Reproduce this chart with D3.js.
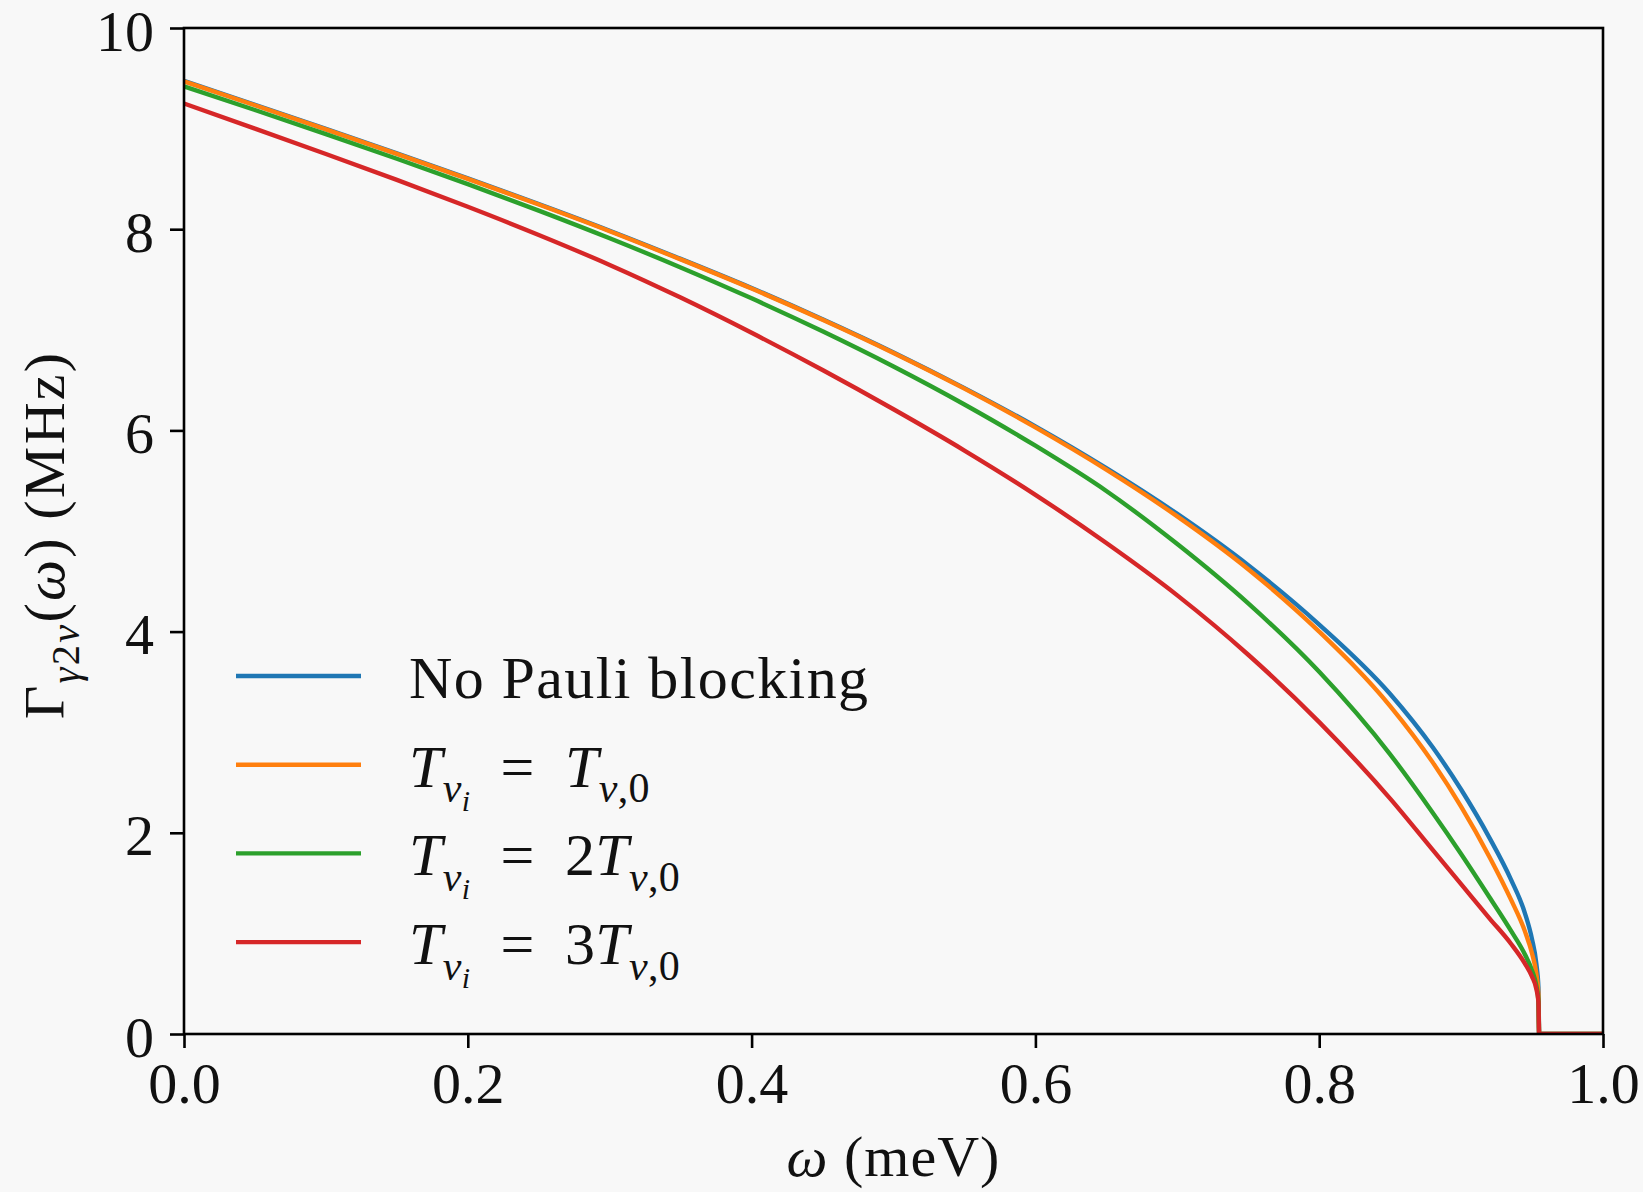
<!DOCTYPE html>
<html>
<head>
<meta charset="utf-8">
<script src="https://cdn.jsdelivr.net/npm/d3@7"></script>
<style>
  html, body { margin: 0; padding: 0; background: #f8f8f8; }
  svg { display: block; }
  text { font-family: "Liberation Serif", "Times New Roman", serif; fill: #111; }
</style>
</head>
<body>
<svg id="chart" width="1643" height="1192"></svg>
<script>
// ---- data ----
const omega = [0, 0.05, 0.1, 0.15, 0.2, 0.25, 0.3, 0.35, 0.4, 0.45, 0.5, 0.55, 0.6, 0.65, 0.7, 0.75, 0.8, 0.85, 0.88, 0.9, 0.92, 0.935, 0.945, 0.95, 0.953, 0.9545, 0.955, 1.0];
const gammaNoPauli = [9.475, 9.237, 8.997, 8.754, 8.505, 8.25, 7.985, 7.705, 7.415, 7.105, 6.775, 6.42, 6.04, 5.625, 5.17, 4.66, 4.07, 3.38, 2.85, 2.43, 1.95, 1.54, 1.20, 0.94, 0.70, 0.46, 0, 0];
const gammaT1 = [9.47, 9.232, 8.992, 8.749, 8.50, 8.245, 7.98, 7.70, 7.41, 7.10, 6.77, 6.415, 6.03, 5.61, 5.145, 4.62, 4.00, 3.26, 2.70, 2.26, 1.76, 1.34, 1.02, 0.80, 0.60, 0.40, 0, 0];
const gammaT2 = [9.42, 9.185, 8.945, 8.70, 8.4475, 8.185, 7.91, 7.62, 7.3125, 6.985, 6.635, 6.2575, 5.8475, 5.3975, 4.87, 4.28, 3.60, 2.78, 2.20, 1.79, 1.36, 1.03, 0.79, 0.63, 0.48, 0.33, 0, 0];
const gammaT3 = [9.25, 9.00, 8.7475, 8.49, 8.2225, 7.9425, 7.645, 7.32, 6.97, 6.60, 6.21, 5.80, 5.36, 4.88, 4.36, 3.77, 3.10, 2.34, 1.83, 1.49, 1.15, 0.90, 0.70, 0.57, 0.45, 0.32, 0, 0];
const xTicks = [0, 0.2, 0.4, 0.6, 0.8, 1.0];
const xTickLabels = ["0.0", "0.2", "0.4", "0.6", "0.8", "1.0"];
const yTicks = [0, 2, 4, 6, 8, 10];
const yTickLabels = ["0", "2", "4", "6", "8", "10"];
const seriesColors = ["#1f77b4", "#ff7f0e", "#2ca02c", "#d62728"];
// legend labels as [text, italic, level] segments
const EQ = "\u2002=\u2002";
const seriesLabels = [
  [["No Pauli blocking", false, 0]],
  [["T", true, 0], ["ν", true, 1], ["i", true, 2], [EQ, false, 0], ["T", true, 0], ["ν", true, 1], [",0", false, 1]],
  [["T", true, 0], ["ν", true, 1], ["i", true, 2], [EQ, false, 0], ["2", false, 0], ["T", true, 0], ["ν", true, 1], [",0", false, 1]],
  [["T", true, 0], ["ν", true, 1], ["i", true, 2], [EQ, false, 0], ["3", false, 0], ["T", true, 0], ["ν", true, 1], [",0", false, 1]]
];
const xLabel = [["ω", true, 0], [" (meV)", false, 0]];
const yLabel = [["Γ", false, 0], ["γ", true, 1], ["2", false, 1], ["ν", true, 1], ["(", false, 0], ["ω", true, 0], [")", false, 0], [" (MHz)", false, 0]];

const series = [gammaNoPauli, gammaT1, gammaT2, gammaT3];

// ---- layout ----
const W = 1643, H = 1192;
const plot = { left: 184, top: 28, right: 1603, bottom: 1034 };
const FS = 58;

const svg = d3.select("#chart");
svg.append("rect").attr("width", W).attr("height", H).attr("fill", "#f8f8f8");

const x = d3.scaleLinear().domain([0, 1]).range([plot.left, plot.right]);
const y = d3.scaleLinear().domain([0, 10]).range([plot.bottom, plot.top]);

// rich text helper
function richText(sel, segs, fs) {
  const sizes = [1, 0.7, 0.5];
  const shifts = [0, 0.26, 0.40];
  let cur = 0;
  segs.forEach(([t, it, lvl]) => {
    const target = shifts[lvl] * fs;
    sel.append("tspan")
      .attr("dy", target - cur)
      .attr("font-size", sizes[lvl] * fs)
      .attr("font-style", it ? "italic" : "normal")
      .style("white-space", "pre")
      .text(t);
    cur = target;
  });
}

// lines
svg.append("clipPath").attr("id", "plotclip").append("rect")
  .attr("x", plot.left).attr("y", plot.top - 5)
  .attr("width", plot.right - plot.left).attr("height", plot.bottom - plot.top + 5);

const LW = 4.4;
const line = d3.line().x((d, i) => x(omega[i])).y(d => y(d)).curve(d3.curveMonotoneX);
const gLines = svg.append("g").attr("clip-path", "url(#plotclip)");
series.forEach((s, k) => {
  gLines.append("path").datum(s)
    .attr("d", line)
    .attr("fill", "none")
    .attr("stroke", seriesColors[k])
    .attr("stroke-width", LW)
    .attr("stroke-linejoin", "round");
});

// axes
const xAxis = d3.axisBottom(x).tickValues(xTicks).tickFormat((d, i) => xTickLabels[i]).tickSizeInner(14).tickSizeOuter(0);
const yAxis = d3.axisLeft(y).tickValues(yTicks).tickFormat((d, i) => yTickLabels[i]).tickSizeInner(14).tickSizeOuter(0);

const gx = svg.append("g").attr("transform", `translate(0,${plot.bottom})`).call(xAxis);
const gy = svg.append("g").attr("transform", `translate(${plot.left},0)`).call(yAxis);
[gx, gy].forEach(g => {
  g.select(".domain").remove();
  g.selectAll(".tick line").attr("stroke", "#000").attr("stroke-width", 2.6);
  g.selectAll(".tick text").attr("font-size", FS).attr("font-family", "Liberation Serif").attr("fill", "#111");
});
gx.selectAll(".tick text").attr("dy", null).attr("y", 0).attr("transform", "translate(0,69)");
gy.selectAll(".tick text").attr("dy", null).attr("x", -30).attr("transform", "translate(0,22)");

// frame
svg.append("rect")
  .attr("x", plot.left).attr("y", plot.top)
  .attr("width", plot.right - plot.left).attr("height", plot.bottom - plot.top)
  .attr("fill", "none").attr("stroke", "#000").attr("stroke-width", 2.6);

// axis labels
const xl = svg.append("text").attr("x", (plot.left + plot.right) / 2).attr("y", 1176)
  .attr("text-anchor", "middle").attr("font-size", FS).attr("letter-spacing", 1);
richText(xl, xLabel, FS);

const yl = svg.append("text").attr("transform", `translate(64,${(plot.top + plot.bottom) / 2 + 4}) rotate(-90)`)
  .attr("text-anchor", "middle").attr("font-size", FS).attr("letter-spacing", 2.2);
richText(yl, yLabel, FS);

// legend
const legY0 = 676, legDy = 88.7, LFS = 60;
series.forEach((s, k) => {
  const yy = legY0 + k * legDy;
  svg.append("line").attr("x1", 236).attr("x2", 361).attr("y1", yy).attr("y2", yy)
    .attr("stroke", seriesColors[k]).attr("stroke-width", LW);
  const t = svg.append("text").attr("x", 409).attr("y", yy + 22).attr("font-size", LFS)
    .attr("letter-spacing", k === 0 ? 1.4 : 0.3);
  richText(t, seriesLabels[k], LFS);
});
</script>
</body>
</html>
